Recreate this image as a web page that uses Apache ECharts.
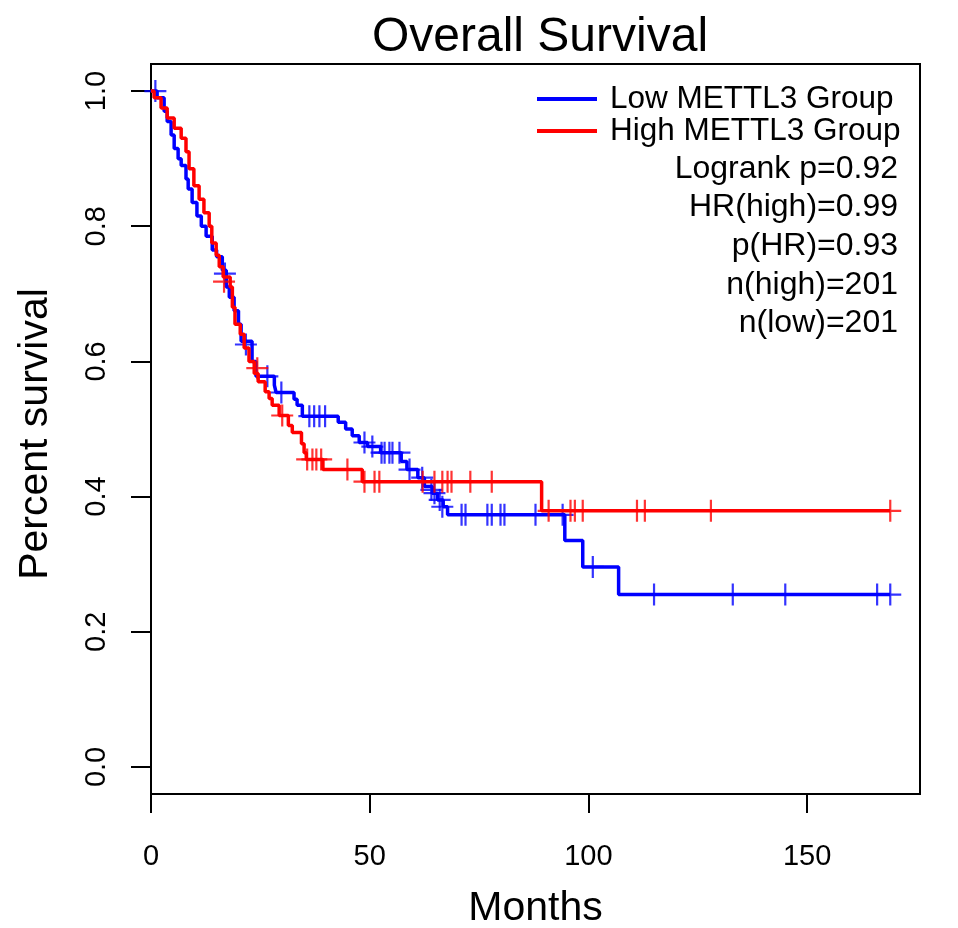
<!DOCTYPE html>
<html>
<head>
<meta charset="utf-8">
<script src="https://cdn.jsdelivr.net/npm/echarts@6/dist/echarts.min.js"></script>
<style>html,body{margin:0;padding:0;background:#fff}#c{width:958px;height:928px}</style>
</head>
<body>
<div id="c"></div>
<script>
const FONT = '"Liberation Sans", Arial, Helvetica, sans-serif';
const titleText = 'Overall Survival';
const xName = 'Months';
const yName = 'Percent survival';
const xTicks = [0, 50, 100, 150];
const yTicks = [0, 0.2, 0.4, 0.6, 0.8, 1.0];
const lowName = 'Low METTL3 Group';
const highName = 'High METTL3 Group';
const statsLines = ['Logrank p=0.92', 'HR(high)=0.99', 'p(HR)=0.93', 'n(high)=201', 'n(low)=201'];

// Kaplan-Meier steps [month, survival]
const lowSteps = [
  [0,1.0],[1.4,0.99],[3.0,0.97],[3.7,0.955],[4.6,0.935],[5.3,0.915],[6.2,0.90],[6.9,0.89],
  [8.0,0.87],[8.5,0.855],[9.4,0.835],[10.5,0.815],[11.5,0.80],[12.6,0.785],[14.0,0.765],
  [15.0,0.755],[16.3,0.735],[17.2,0.71],[17.9,0.695],[19.0,0.675],[20.0,0.655],[20.6,0.63],
  [23.1,0.60],[24.0,0.578],[28.2,0.565],[28.6,0.554],[32.7,0.544],[33.4,0.535],[34.6,0.519],
  [42.8,0.51],[44.5,0.50],[46.0,0.49],[47.6,0.48],[49.5,0.474],[52.5,0.465],[57.2,0.452],
  [58.5,0.44],[61.0,0.428],[62.5,0.415],[64.3,0.405],[65.5,0.395],[66.8,0.385],[67.8,0.373],
  [94.6,0.335],[98.7,0.296],[106.9,0.255],[169.0,0.255]
];
const lowCensor = [
  [1.0,1.0],[16.9,0.73],[21.7,0.625],[26.6,0.578],[29.8,0.554],[36.2,0.519],[37.3,0.519],
  [38.5,0.519],[39.8,0.519],[48.8,0.48],[50.6,0.474],[52.7,0.465],[53.4,0.465],[54.5,0.465],
  [55.2,0.465],[56.8,0.465],[59.1,0.44],[62.0,0.428],[64.1,0.41],[64.8,0.405],[66.0,0.395],
  [66.6,0.385],[71.0,0.373],[71.9,0.373],[76.9,0.373],[77.9,0.373],[79.9,0.373],[80.8,0.373],
  [87.9,0.373],[94.1,0.373],[101.0,0.296],[115.0,0.255],[133.0,0.255],[145.0,0.255],
  [166.0,0.255],[169.0,0.255]
];
const highSteps = [
  [0,1.0],[0.7,0.99],[2.3,0.975],[3.7,0.96],[5.3,0.945],[6.9,0.93],[8.0,0.91],[8.7,0.885],
  [9.8,0.86],[11.0,0.84],[12.1,0.82],[13.3,0.80],[13.9,0.775],[14.9,0.757],[15.6,0.74],
  [16.5,0.725],[18.1,0.71],[18.6,0.68],[19.2,0.655],[20.4,0.64],[21.3,0.62],[22.4,0.60],
  [23.6,0.582],[24.5,0.57],[26.1,0.555],[27.0,0.545],[27.7,0.535],[29.3,0.52],[31.4,0.505],
  [32.3,0.495],[34.4,0.478],[35.0,0.465],[35.5,0.455],[39.3,0.44],[48.3,0.422],[89.3,0.379],
  [169.0,0.379]
];
const highCensor = [
  [16.7,0.718],[24.3,0.59],[30.0,0.52],[35.7,0.455],[36.9,0.455],[37.8,0.455],[38.9,0.455],
  [44.9,0.44],[48.8,0.422],[51.1,0.422],[52.2,0.422],[62.1,0.422],[64.8,0.422],[66.6,0.422],
  [67.8,0.422],[68.7,0.422],[73.0,0.422],[77.9,0.422],[90.9,0.379],[95.9,0.379],[96.9,0.379],
  [98.7,0.379],[111.1,0.379],[112.9,0.379],[128.0,0.379],[169.0,0.379]
];

const BLUE = '#0000FF', RED = '#FF0000';
const plus = 'path://M9,0 H11 V9 H20 V11 H11 V20 H9 V11 H0 V9 H9 Z';

const chart = echarts.init(document.getElementById('c'), null, {renderer: 'canvas'});
const statsGraphics = statsLines.map((t, i) => ({
  type: 'text', x: 898, y: 169 + i * 38.6,
  style: {text: t, font: '32px ' + FONT, fill: '#000', textAlign: 'right', textVerticalAlign: 'middle'}
}));

chart.setOption({
  animation: false,
  backgroundColor: '#fff',
  title: {
    text: titleText, top: 9, left: 535, textAlign: 'center',
    textStyle: {fontFamily: FONT, fontSize: 48, fontWeight: 'normal', color: '#000'}
  },
  grid: {left: 151, right: 38, top: 64, bottom: 134, show: true, borderColor: '#000', borderWidth: 2,
    containLabel: false, outerBoundsMode: 'none'},
  legend: {
    data: [lowName, highName], orient: 'vertical', left: 537, top: 83, padding: 0,
    itemWidth: 60, itemHeight: 4, itemGap: 0, icon: 'rect',
    textStyle: {fontFamily: FONT, fontSize: 31.5, color: '#000', padding: [0, 0, 0, 8]},
    selectedMode: false
  },
  xAxis: {
    type: 'value', min: 0, max: 175.8,
    name: xName, nameLocation: 'middle', nameGap: 94,
    nameTextStyle: {fontFamily: FONT, fontSize: 41, color: '#000', verticalAlign: 'top'},
    axisLine: {show: false, onZero: false},
    axisTick: {show: true, length: 19, inside: false, customValues: xTicks, lineStyle: {color: '#000', width: 2}},
    axisLabel: {customValues: xTicks, margin: 48, fontFamily: FONT, fontSize: 29, color: '#000', verticalAlign: 'top'},
    splitLine: {show: false}
  },
  yAxis: {
    type: 'value', min: -0.04, max: 1.04,
    name: yName, nameLocation: 'middle', nameGap: 95, nameRotate: 90,
    nameTextStyle: {fontFamily: FONT, fontSize: 41, color: '#000', padding: [0, 10, 0, 0]},
    axisLine: {show: false, onZero: false},
    axisTick: {show: true, length: 20, inside: false, customValues: yTicks, lineStyle: {color: '#000', width: 2}},
    axisLabel: {customValues: yTicks, rotate: 90, margin: 40, fontFamily: FONT, fontSize: 29, color: '#000',
      formatter: v => v.toFixed(1)},
    splitLine: {show: false}
  },
  graphic: statsGraphics,
  series: [
    {name: lowName, type: 'line', step: 'end', data: lowSteps, showSymbol: false, symbol: 'none',
     lineStyle: {color: BLUE, width: 3.5}, itemStyle: {color: BLUE}, z: 2},
    {name: 'Low censored', type: 'scatter', data: lowCensor, symbol: plus, symbolSize: 22,
     itemStyle: {color: BLUE}, z: 2},
    {name: highName, type: 'line', step: 'end', data: highSteps, showSymbol: false, symbol: 'none',
     lineStyle: {color: RED, width: 3.5}, itemStyle: {color: RED}, z: 3},
    {name: 'High censored', type: 'scatter', data: highCensor, symbol: plus, symbolSize: 22,
     itemStyle: {color: RED}, z: 3}
  ]
});
</script>
</body>
</html>
